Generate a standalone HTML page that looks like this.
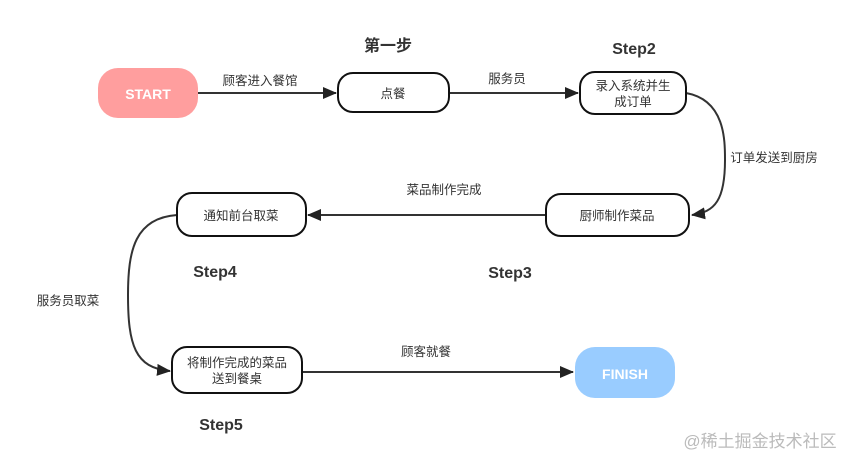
<!DOCTYPE html>
<html><head><meta charset="utf-8"><style>
html,body{margin:0;padding:0;background:#fff;width:856px;height:466px;overflow:hidden}
text{font-family:"Liberation Sans","Noto Sans CJK SC",sans-serif}
.l{font-size:12.5px;fill:#333}
.b{font-size:16px;font-weight:bold;fill:#333;font-family:"DejaVu Sans","Noto Sans CJK SC",sans-serif}
</style></head><body>
<svg width="856" height="466" viewBox="0 0 856 466" xmlns="http://www.w3.org/2000/svg">
<defs><marker id="a" markerWidth="14" markerHeight="12" refX="13" refY="6" orient="auto" markerUnits="userSpaceOnUse"><path d="M0,0 L14,6 L0,12 z" fill="#222"/></marker></defs>
<g stroke="#333" stroke-width="2" fill="none">
<line x1="197" y1="93" x2="336" y2="93" marker-end="url(#a)"/>
<line x1="449" y1="93" x2="578" y2="93" marker-end="url(#a)"/>
<path d="M686,93 C725,100 725,140 725,160 C725,200 715,212 692,215" marker-end="url(#a)"/>
<line x1="546" y1="215" x2="308" y2="215" marker-end="url(#a)"/>
<path d="M177,215 C135,218 128,250 128,295 C128,345 135,368 170,371" marker-end="url(#a)"/>
<line x1="302" y1="372" x2="573" y2="372" marker-end="url(#a)"/>
</g>
<rect x="98" y="68" width="100" height="50" rx="20" fill="#ff9e9e"/>
<text x="148" y="99" text-anchor="middle" font-size="14" font-weight="bold" fill="#fff" font-family="DejaVu Sans,sans-serif">START</text>
<rect x="575" y="347" width="100" height="51" rx="20" fill="#99ccff"/>
<text x="625" y="379" text-anchor="middle" font-size="14" font-weight="bold" fill="#fff" font-family="DejaVu Sans,sans-serif">FINISH</text>
<g fill="#fff" stroke="#111" stroke-width="2">
<rect x="338" y="73" width="111" height="39" rx="15"/>
<rect x="580" y="72" width="106" height="42" rx="15"/>
<rect x="546" y="194" width="143" height="42" rx="15"/>
<rect x="177" y="193" width="129" height="43" rx="15"/>
<rect x="172" y="347" width="130" height="46" rx="15"/>
</g>
<g class="l" text-anchor="middle">
<text x="393" y="98">点餐</text>
<text x="633" y="90">录入系统并生</text>
<text x="633" y="106">成订单</text>
<text x="617" y="220">厨师制作菜品</text>
<text x="241" y="220">通知前台取菜</text>
<text x="237" y="367">将制作完成的菜品</text>
<text x="237" y="383">送到餐桌</text>
<text x="260" y="85">顾客进入餐馆</text>
<text x="507" y="83">服务员</text>
<text x="774" y="162">订单发送到厨房</text>
<text x="444" y="194">菜品制作完成</text>
<text x="68" y="305">服务员取菜</text>
<text x="426" y="356">顾客就餐</text>
</g>
<g class="b" text-anchor="middle">
<text x="388" y="51">第一步</text>
<text x="634" y="54">Step2</text>
<text x="510" y="278">Step3</text>
<text x="215" y="277">Step4</text>
<text x="221" y="430">Step5</text>
</g>
<text x="760" y="447" text-anchor="middle" font-size="17" fill="#bbb">@稀土掘金技术社区</text>
</svg>
</body></html>
